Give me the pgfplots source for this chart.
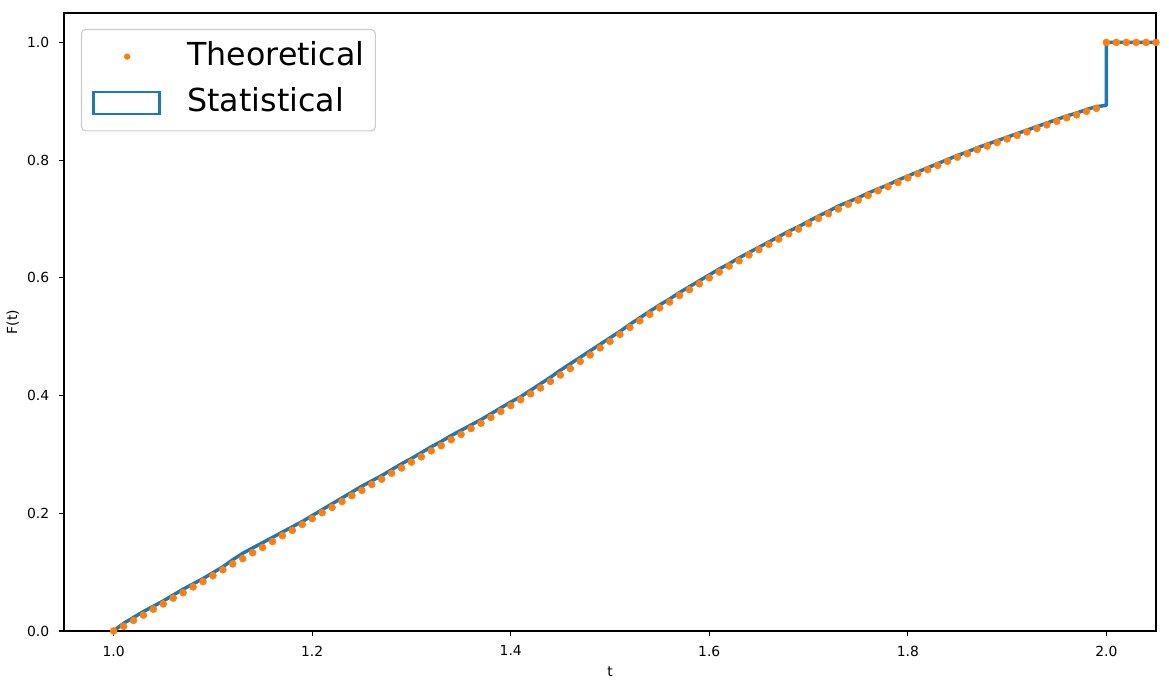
\documentclass[border=0pt]{standalone}
\usepackage{fontspec}
\setmainfont{DejaVu Sans}
\usepackage{pgfplots}
\pgfplotsset{compat=1.18}
\definecolor{mplblue}{HTML}{1F77B4}
\definecolor{mplorange}{HTML}{FF7F0E}
\begin{document}
\begin{tikzpicture}
\path[use as bounding box] (-46.08pt,-36.72pt) rectangle (795.6pt,454.32pt);
\begin{axis}[
  at={(0,0)}, anchor=south west,
  scale only axis, width=786.24pt, height=444.96pt,
  xmin=0.95, xmax=2.05, ymin=0, ymax=1.05,
  xtick={1.0,1.2,1.4,1.6,1.8,2.0},
  ytick={0.0,0.2,0.4,0.6,0.8,1.0},
  tick pos=left, tick align=outside, major tick length=3.5pt,
  axis line style={line width=0.8pt, black},
  major tick style={line width=0.8pt, black},
  /pgf/number format/.cd, fixed, fixed zerofill, precision=1, assume math mode=true,
  /pgfplots/.cd,
  tick label style={font=\fontsize{10}{12}\selectfont},
  xticklabel style={anchor=north, inner sep=0pt, yshift=-7pt},
  yticklabel style={anchor=east, inner sep=0pt, xshift=-7pt},
  label style={font=\fontsize{10}{12}\selectfont},
  xlabel={t}, ylabel={F(t)},
  xlabel style={at={(axis description cs:0.5,-0.0744)}, anchor=base, inner sep=0pt},
  ylabel style={at={(axis description cs:-0.043,0.5)}, anchor=base, inner sep=0pt, rotate=0},
  legend cell align=left,
  legend style={at={(0,1)}, anchor=north west, xshift=12.2pt, yshift=-11.5pt,
    font=\fontsize{22.8}{27}\selectfont,
    draw=black!20, line width=0.8pt, fill=white, rounded corners=3pt,
    inner xsep=7.9pt, inner ysep=9pt, row sep=11pt,
    nodes={inner sep=0pt, text height=17pt, text depth=5pt},
    /tikz/every odd column/.append style={column sep=19pt}},
]
\addlegendimage{legend image code/.code={\path[draw=none, fill=none] (0pt,-7.9pt) rectangle (47.5pt,7.9pt); \fill[mplorange, draw=none] (24pt,0.5pt) circle (2.3pt);}}
\addlegendentry{Theoretical}
\addlegendimage{legend image code/.code={\draw[mplblue, line width=1.9pt, sharp corners, fill=none] (0pt,-7.9pt) rectangle (47.5pt,7.9pt);}}
\addlegendentry{Statistical}

\addplot[mplblue, line width=2.5pt, line join=round, forget plot] coordinates {
(1.00,0.000) (1.01,0.013) (1.02,0.023) (1.03,0.033) (1.04,0.042) (1.05,0.051)
(1.06,0.061) (1.07,0.071) (1.08,0.080) (1.09,0.089) (1.10,0.099) (1.11,0.109)
(1.12,0.121) (1.13,0.132) (1.14,0.141) (1.15,0.150) (1.16,0.159) (1.17,0.168)
(1.18,0.177) (1.19,0.186) (1.20,0.196) (1.21,0.206) (1.22,0.216) (1.23,0.226)
(1.24,0.236) (1.25,0.246) (1.26,0.255) (1.27,0.264) (1.28,0.274) (1.29,0.284)
(1.30,0.293) (1.31,0.303) (1.32,0.313) (1.33,0.322) (1.34,0.332) (1.35,0.341)
(1.36,0.350) (1.37,0.359) (1.38,0.369) (1.39,0.379) (1.40,0.389) (1.41,0.398)
(1.42,0.409) (1.43,0.420) (1.44,0.431) (1.45,0.443) (1.46,0.454) (1.47,0.465)
(1.48,0.476) (1.49,0.487) (1.50,0.498) (1.51,0.509) (1.52,0.521) (1.53,0.532)
(1.54,0.543) (1.55,0.554) (1.56,0.564) (1.57,0.575) (1.58,0.585) (1.59,0.595)
(1.60,0.605) (1.61,0.615) (1.62,0.624) (1.63,0.634) (1.64,0.643) (1.65,0.652)
(1.66,0.661) (1.67,0.670) (1.68,0.679) (1.69,0.687) (1.70,0.696) (1.71,0.705)
(1.72,0.713) (1.73,0.722) (1.74,0.729) (1.75,0.736) (1.76,0.744) (1.77,0.751)
(1.78,0.758) (1.79,0.766) (1.80,0.773) (1.81,0.780) (1.82,0.787) (1.83,0.794)
(1.84,0.801) (1.85,0.808) (1.86,0.814) (1.87,0.821) (1.88,0.827) (1.89,0.833)
(1.90,0.839) (1.91,0.845) (1.92,0.851) (1.93,0.857) (1.94,0.863) (1.95,0.869)
(1.96,0.875) (1.97,0.880) (1.98,0.886) (1.99,0.891) (2.00,0.893) (2.00,1.000)
(2.06,1.000)
};

\addplot[mplorange, only marks, mark=*, mark size=2.5pt, mark options={solid, draw=none, fill=mplorange}, forget plot] coordinates {
(1.00,0.000) (1.01,0.008) (1.02,0.018) (1.03,0.027) (1.04,0.037) (1.05,0.046)
(1.06,0.056) (1.07,0.065) (1.08,0.075) (1.09,0.084) (1.10,0.094) (1.11,0.104)
(1.12,0.114) (1.13,0.123) (1.14,0.133) (1.15,0.142) (1.16,0.152) (1.17,0.162)
(1.18,0.171) (1.19,0.181) (1.20,0.191) (1.21,0.201) (1.22,0.210) (1.23,0.220)
(1.24,0.230) (1.25,0.239) (1.26,0.249) (1.27,0.258) (1.28,0.268) (1.29,0.277)
(1.30,0.287) (1.31,0.296) (1.32,0.306) (1.33,0.315) (1.34,0.325) (1.35,0.334)
(1.36,0.344) (1.37,0.353) (1.38,0.363) (1.39,0.373) (1.40,0.383) (1.41,0.393)
(1.42,0.403) (1.43,0.413) (1.44,0.424) (1.45,0.435) (1.46,0.446) (1.47,0.458)
(1.48,0.469) (1.49,0.481) (1.50,0.492) (1.51,0.504) (1.52,0.516) (1.53,0.527)
(1.54,0.538) (1.55,0.549) (1.56,0.559) (1.57,0.570) (1.58,0.580) (1.59,0.590)
(1.60,0.600) (1.61,0.610) (1.62,0.620) (1.63,0.629) (1.64,0.639) (1.65,0.648)
(1.66,0.657) (1.67,0.666) (1.68,0.675) (1.69,0.683) (1.70,0.692) (1.71,0.701)
(1.72,0.709) (1.73,0.717) (1.74,0.725) (1.75,0.732) (1.76,0.740) (1.77,0.748)
(1.78,0.755) (1.79,0.762) (1.80,0.770) (1.81,0.777) (1.82,0.784) (1.83,0.791)
(1.84,0.798) (1.85,0.805) (1.86,0.811) (1.87,0.818) (1.88,0.824) (1.89,0.830)
(1.90,0.836) (1.91,0.842) (1.92,0.848) (1.93,0.854) (1.94,0.860) (1.95,0.866)
(1.96,0.872) (1.97,0.877) (1.98,0.883) (1.99,0.888) (2.00,1.000) (2.01,1.000)
(2.02,1.000) (2.03,1.000) (2.04,1.000) (2.05,1.000)
};
\end{axis}
\end{tikzpicture}
\end{document}
